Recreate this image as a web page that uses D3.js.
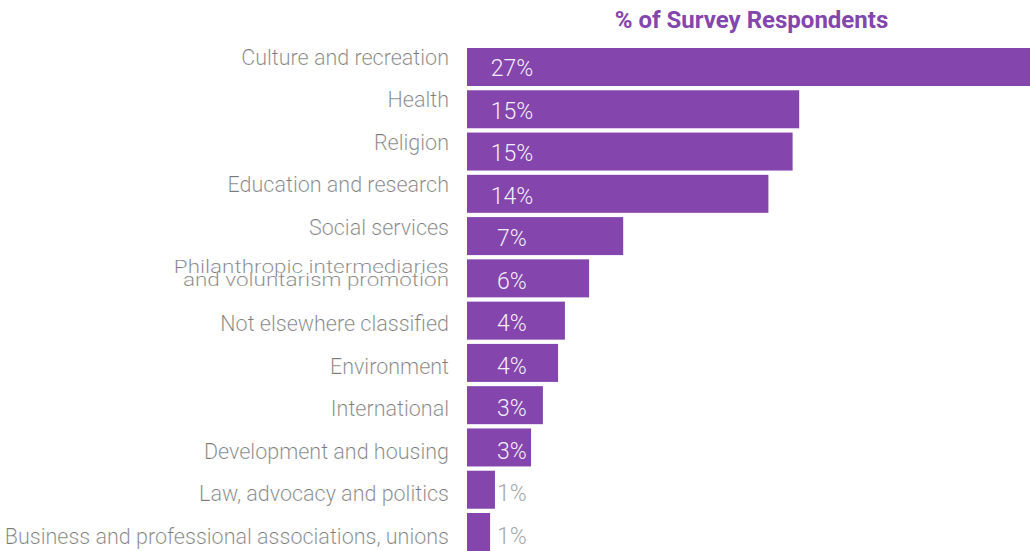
<!DOCTYPE html>
<html>
<head>
<meta charset="utf-8">
<script src="https://cdn.jsdelivr.net/npm/d3@7"></script>
<style>
  html, body { margin: 0; padding: 0; background: #fff; }
  svg { display: block; }
  .cat { font-family: "Roboto Light", Roboto, "Noto Sans", sans-serif; font-weight: 300; font-size: 21.5px; fill: #7a7a7a;
         stroke: #ffffff; stroke-width: 0.2px; }
  .val { font-family: "Roboto Light", Roboto, "Noto Sans", sans-serif; font-weight: 300; font-size: 23px; }
  .title { font-family: Roboto, "Noto Sans", sans-serif; font-weight: 700; font-size: 24px; fill: #8446ad; }
</style>
</head>
<body>
<svg id="chart" width="1030" height="551"></svg>
<script>
// Nonprofit sector of survey respondents (share, %)
const categories = [
  "Culture and recreation",
  "Health",
  "Religion",
  "Education and research",
  "Social services",
  "Philanthropic intermediaries\nand voluntarism promotion",
  "Not elsewhere classified",
  "Environment",
  "International",
  "Development and housing",
  "Law, advocacy and politics",
  "Business and professional associations, unions"
];
const shares = [27.0, 15.1, 14.8, 13.7, 7.1, 5.55, 4.45, 4.14, 3.45, 2.91, 1.27, 1.05];
const titleText = "% of Survey Respondents";

const svg = d3.select("#chart");
const purple = "#8446ad";

const rows = categories.map((c, i) => ({ cat: c, share: shares[i], idx: i }));

// horizontal value scale (22 px per percentage point)
const x = d3.scaleLinear().domain([0, 27]).range([467, 1061]);

// bar bands
const y = d3.scaleBand().domain(categories).range([48, 551]).paddingInner(0.101).paddingOuter(0);

// text rows (value and category labels run on a slightly wider pitch)
const rowY = d3.scaleLinear().domain([0, categories.length - 1]).range([76, 544]);

const fmt = d => d3.format(".0f")(d) + "%";

// title
svg.append("text")
  .attr("class", "title")
  .attr("x", 751.5)
  .attr("y", 28)
  .attr("text-anchor", "middle")
  .text(titleText);

// bars
svg.append("g").selectAll("rect")
  .data(rows)
  .join("rect")
  .attr("x", x(0))
  .attr("y", d => y(d.cat))
  .attr("width", d => x(d.share) - x(0))
  .attr("height", y.bandwidth())
  .attr("fill", purple);

// value labels, white inside the bar, grey when the bar is too short
const valueX = 512;
svg.append("g").selectAll("text")
  .data(rows)
  .join("text")
  .attr("class", "val")
  .attr("x", valueX)
  .attr("y", d => rowY(d.idx))
  .attr("text-anchor", "middle")
  .attr("fill", d => x(d.share) > valueX + 12 ? "#f4eef8" : "#a8a8a8")
  .text(d => fmt(d.share));

// category labels; a wrapped label is set slightly compressed on two
// tight lines and pushes the following rows down a little
const rowShift = 11.4;
const lineGap = 13.5;
const labelX = 449;
let extra = 0;
const catG = svg.append("g");
rows.forEach(d => {
  const lines = d.cat.split("\n");
  const multi = lines.length > 1;
  const sx = multi ? 1.045 : 1, sy = multi ? 0.85 : 1;
  const first = rowY(d.idx) - 11.5 + extra * rowShift - 4.7 * (lines.length - 1);
  const t = catG.append("text")
    .attr("class", "cat")
    .attr("text-anchor", "end")
    .attr("transform", `translate(${labelX},${first}) scale(${sx},${sy})`);
  lines.forEach((ln, k) => {
    t.append("tspan").attr("x", 0).attr("y", k * lineGap / sy).text(ln);
  });
  extra += lines.length - 1;
});
</script>
</body>
</html>
